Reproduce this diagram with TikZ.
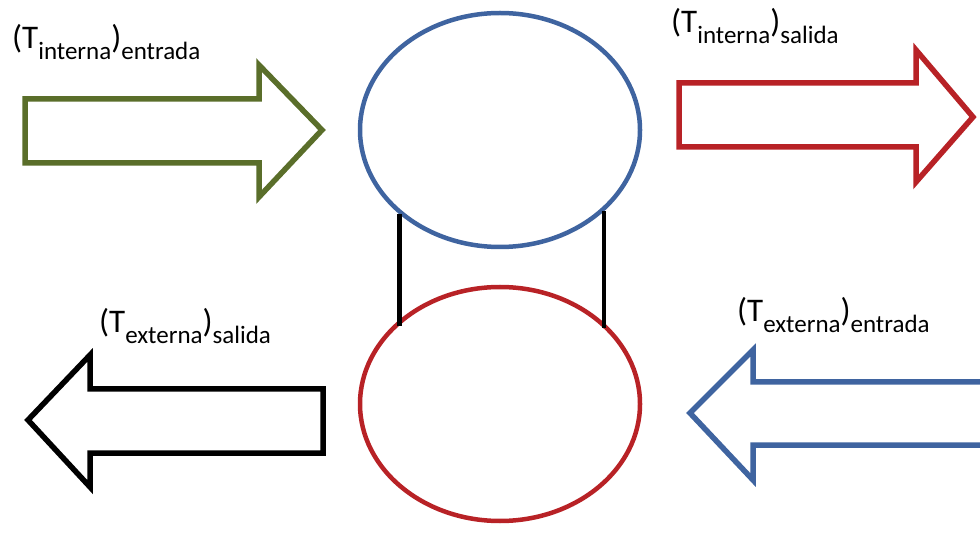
\documentclass[tikz,border=0pt]{standalone}
\usepackage{fontspec}
\setmainfont{Carlito}
\usetikzlibrary{calc,shapes.geometric}
\definecolor{verde}{RGB}{90,110,42}
\definecolor{rojo}{RGB}{184,34,38}
\definecolor{azul}{RGB}{63,100,160}
\newcommand{\grande}{\fontsize{33}{36}\selectfont}
\newcommand{\temp}[2]{{\grande(T}\raisebox{-11pt}{#1}{\grande)}\raisebox{-11pt}{#2}}

\begin{document}
\begin{tikzpicture}[x=1pt,y=-1pt,
    flecha/.style={line width=5.5pt,line join=miter,fill=white},
    tanque/.style={ellipse,line width=4.5pt,minimum width=280pt,minimum height=234pt,inner sep=0pt},
    etiqueta/.style={anchor=base west,inner sep=0pt,font=\fontsize{25}{28}\selectfont}]
    \path[use as bounding box,clip] (0,0) rectangle (980,534); % page size
    % the two tanks
    \node[tanque,draw=azul] (interno) at (500,130) {};
    \node[tanque,draw=rojo] (externo) at (500,404) {};
    \draw[line width=4.5pt] (interno.220) -- ($(externo.140)+(0,6)$);
    \draw[line width=4.5pt] (interno.322) -- ($(externo.38)+(0,5)$);
    % flows in and out
    \draw[flecha,draw=verde] (25,99) -- (259,99) -- (259,65) -- (322,130)
      -- (259,197) -- (259,163) -- (25,163) -- cycle;
    \draw[flecha,draw=rojo] (679,83) -- (916,83) -- (916,50) -- (973,117)
      -- (916,182) -- (916,147) -- (679,147) -- cycle;
    \draw[flecha,draw=black] (323,389) -- (90,389) -- (90,355) -- (28,420)
      -- (90,487) -- (90,453) -- (323,453) -- cycle;
    \draw[flecha,draw=azul] (995,382) -- (753,382) -- (753,350) -- (690,413)
      -- (753,480) -- (753,445) -- (995,445);
    % labels
    \node[etiqueta] (ie) at (12,49) {\temp{interna}{entrada}};
    \node[etiqueta] (is) at (671,33) {\temp{interna}{salida}};
    \node[etiqueta] (es) at (99,333) {\temp{externa}{salida}};
    \node[etiqueta] (ee) at (737,322) {\temp{externa}{entrada}};
\end{tikzpicture}
\end{document}
